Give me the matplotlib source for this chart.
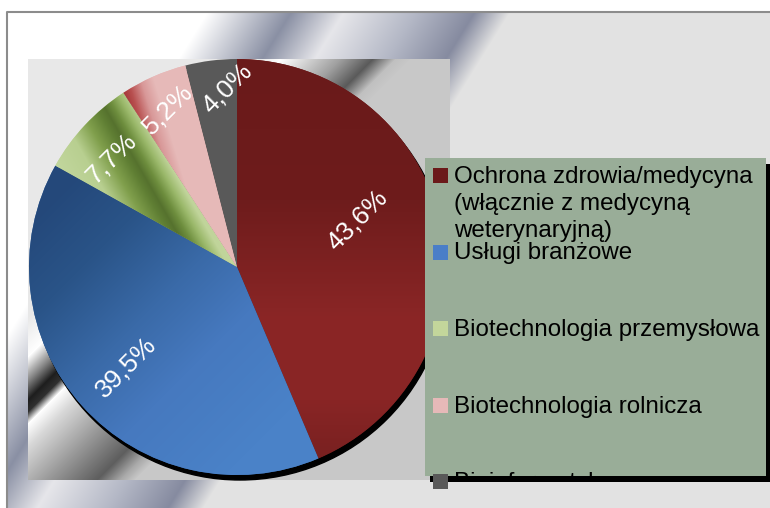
import numpy as np
import matplotlib
matplotlib.use("Agg")
import matplotlib.pyplot as plt
from matplotlib.colors import to_rgb
from matplotlib.patches import Rectangle, Circle

plt.rcParams['font.family'] = ['Liberation Sans', 'DejaVu Sans']

# data
labels = ["Ochrona zdrowia/medycyna\n(włącznie z medycyną\nweterynaryjną)",
          "Usługi branżowe",
          "Biotechnologia przemysłowa",
          "Biotechnologia rolnicza",
          "Bioinformatyka"]
shares = [43.6, 39.5, 7.7, 5.2, 4.0]
slice_colors = ["#6b1a1a", "#3a6aa8", "#c3d69b", "#e6b9b8", "#595959"]
legend_colors = ["#6b1a1a", "#4a7ec8", "#c3d69b", "#e6b9b8", "#595959"]

W, H = 770, 508
cx, cy, R = 237, 267, 208          # pie centre / radius, image pixels (y down)


def ramp(t, stops):
    ts = [s[0] for s in stops]
    cols = np.array([to_rgb(s[1]) for s in stops])
    out = np.zeros(t.shape + (3,))
    for k in range(3):
        out[..., k] = np.interp(t, ts, cols[:, k])
    return out


def grid(x0, x1, y0, y1):
    xs = np.arange(x0, x1) + 0.5
    ys = np.arange(y0, y1) + 0.5
    return np.meshgrid(xs, ys)


def show(ax, img, x0, x1, y0, y1, z, clip=None):
    im = ax.imshow(img, extent=(x0, x1, H - y1, H - y0), origin='upper',
                   aspect='auto', interpolation='bilinear', zorder=z)
    if clip is not None:
        im.set_clip_path(clip)
    return im


fig = plt.figure(figsize=(W / 100, H / 100), dpi=100)
ax = fig.add_axes([0, 0, 1, 1])

# outer frame background
X, Y = grid(0, W, 0, H)
t2 = 0.85 * X + 0.526 * Y
bg = ramp(t2, [(183, "#ffffff"), (254, "#8a90a4"), (299, "#e6e6ea"),
               (360, "#b4b8c6"), (410, "#868ba0"), (440, "#e2e2e2")])
bg[(X < 6) | (Y < 11)] = 1.0
show(ax, bg, 0, W, 0, H, 0.1)
ax.plot([6.5, 6.5, W + 5], [-5, H - 11.5, H - 11.5], color="#8c8c8c", lw=1.5, zorder=0.3)

# plot area background
px0, px1, py0, py1 = 28, 450, 59, 480
X, Y = grid(px0, px1, py0, py1)
t = X + Y
top = ramp(t, [(320, "#e8e8e8"), (340, "#ffffff"), (400, "#a0a0a0"), (432, "#5a5a5a"),
               (455, "#c0c0c0"), (470, "#c8c8c8")])
bottom = ramp(t, [(345, "#e8e8e8"), (385, "#ffffff"), (410, "#808080"), (428, "#1e1e1e"),
                  (440, "#303030"), (452, "#ffffff"), (475, "#d8d8d8"), (540, "#8a8a8a"),
                  (577, "#5e5e5e"), (600, "#a8a8a8"), (615, "#c8c8c8")])
pa = np.where((Y < cy)[..., None], top, bottom)
show(ax, pa, px0, px1, py0, py1, 0.2)

# pie shadow + pie
ax.add_patch(Circle((cx + 3, H - cy - 5), R, color="black", zorder=0.5))
wedges, _ = ax.pie(shares, colors=slice_colors, startangle=90, counterclock=False,
                   center=(cx, H - cy), radius=R, wedgeprops=dict(linewidth=0))

# gradient shading of slices
X, Y = grid(cx - R, cx + R, cy - R, cy + R)
shade = [
    ramp(Y, [(59, "#6a1a1a"), (200, "#6e1c1c"), (320, "#8b2626"), (400, "#892525"), (475, "#741f1f")]),
    ramp(X + Y, [(250, "#24487a"), (350, "#2a5488"), (460, "#3a6aa8"), (560, "#4679bf"), (700, "#4a82c8")]),
    ramp(0.866 * X - 0.5 * Y, [(-40, "#c4d8a0"), (-5, "#b8cf90"), (15, "#809f4c"), (30, "#607f34"),
                               (37, "#56722e"), (45, "#6e8e3e"), (55, "#9ab86a"), (65, "#c0d49a"),
                               (80, "#c4d8a0")]),
    ramp(X - 0.3 * (Y - 93), [(120, "#9c2c2c"), (132, "#b85050"), (145, "#d89898"), (158, "#e6b9b8")]),
]
for w, img in zip(wedges, shade):
    show(ax, img, cx - R, cx + R, cy - R, cy + R, 1.5, clip=w)

# percentage labels
dist = [0.62, 0.72, 0.80, 0.83, 0.86]
ang_off = [10, 0, 2, 0, -4]
for w, v, d, off in zip(wedges, shares, dist, ang_off):
    a = np.deg2rad((w.theta1 + w.theta2) / 2 + off)
    ax.text(cx + R * d * np.cos(a), H - cy + R * d * np.sin(a),
            f"{v:.1f}%".replace(".", ","), rotation=45, rotation_mode='anchor',
            ha='center', va='center', color='white', fontsize=19, zorder=3)

# legend
lx0, lx1, ly0, ly1 = 425, 766, 158, 476
ax.add_patch(Rectangle((lx0 + 5, H - ly1 - 6), lx1 - lx0, ly1 - ly0, fc="black", lw=0, zorder=4))
box = Rectangle((lx0, H - ly1), lx1 - lx0, ly1 - ly0, fc="#99ad98", lw=0, zorder=4.5)
ax.add_patch(box)
for i, (lab, col) in enumerate(zip(labels, legend_colors)):
    base = 183 + i * 76.5
    ax.add_patch(Rectangle((433, H - base), 15, 15, fc=col, lw=0, zorder=6))
    for j, line in enumerate(lab.split("\n")):
        tx = ax.text(454, H - base - j * 27, line, ha='left', va='baseline',
                     fontsize=17.4, color='black', zorder=5, clip_on=True)
        tx.set_clip_path(box)

ax.set_xlim(0, W)
ax.set_ylim(0, H)
ax.set_aspect('auto')
ax.axis('off')
fig.savefig("out.png", dpi=100)
